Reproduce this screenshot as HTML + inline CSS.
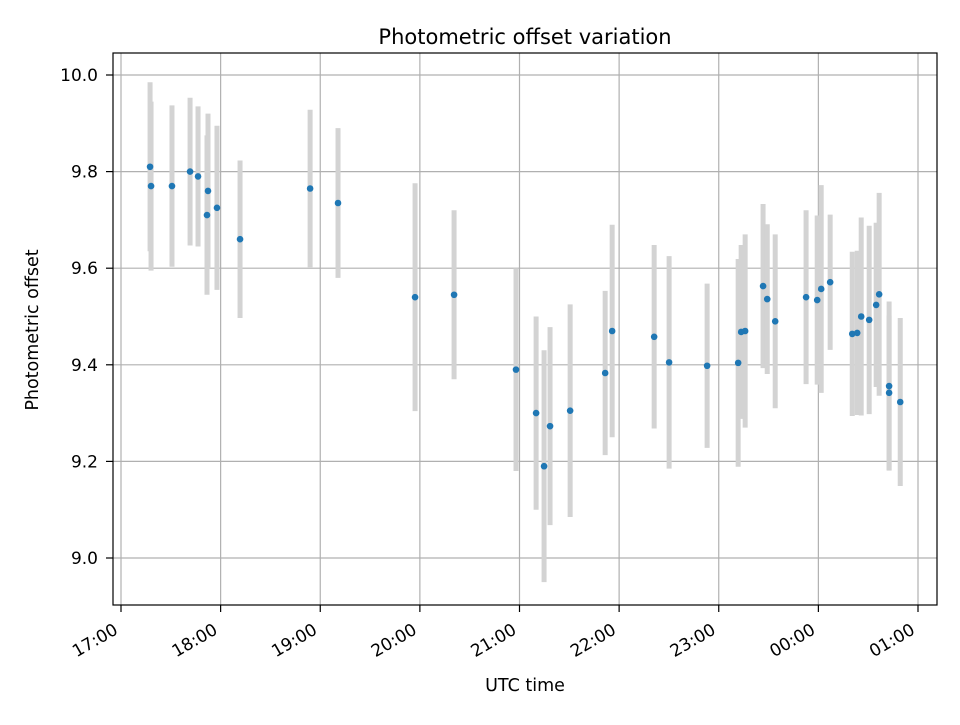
<!DOCTYPE html>
<html><head><meta charset="utf-8"><style>
body{margin:0;background:#fff}
text{font-family:"DejaVu Sans","Liberation Sans",sans-serif;fill:#000}
</style></head><body>
<svg id="c" width="960" height="720" xmlns="http://www.w3.org/2000/svg"></svg>
<script>
const minutes=[17.5,18.1,30.7,41.6,46.4,52.4,51.8,57.8,71.7,113.9,130.7,177.1,200.6,237.9,250,254.8,258.4,270.5,291.6,295.8,321.1,330.1,353,371.7,373.5,375.9,386.7,389.2,394,412.6,419.3,421.7,427.1,440.4,443.4,445.8,450.6,454.8,456.6,462.6,462.6,469.3];
const values=[9.81,9.77,9.77,9.80,9.79,9.76,9.71,9.725,9.66,9.765,9.735,9.54,9.545,9.39,9.30,9.19,9.273,9.305,9.383,9.47,9.458,9.405,9.398,9.404,9.468,9.47,9.563,9.536,9.49,9.54,9.534,9.557,9.571,9.464,9.466,9.5,9.493,9.524,9.546,9.356,9.342,9.323];
const errors=[0.175,0.175,0.167,0.153,0.145,0.16,0.165,0.17,0.163,0.163,0.155,0.236,0.175,0.21,0.2,0.24,0.205,0.22,0.17,0.22,0.19,0.22,0.17,0.215,0.18,0.2,0.17,0.155,0.18,0.18,0.175,0.215,0.14,0.17,0.17,0.205,0.195,0.17,0.21,0.175,0.16,0.174];
const yTicks=[9.0,9.2,9.4,9.6,9.8,10.0];
const xTickMin=[0,60,120,180,240,300,360,420,480];
const xTickLabels=["17:00","18:00","19:00","20:00","21:00","22:00","23:00","00:00","01:00"];
const L=113,R=937,T=53,B=605;
const xs=m=>121+m*(797/480);
const ys=v=>75+(10-v)*483;
const svg=document.getElementById('c');
const NS='http://www.w3.org/2000/svg';
function mk(tag,at,txt){const e=document.createElementNS(NS,tag);for(const k in at)e.setAttribute(k,at[k]);if(txt!==undefined)e.textContent=txt;svg.appendChild(e);return e;}
xTickMin.forEach((m,i)=>{
 const g=mk('line',{x1:xs(m),x2:xs(m),y1:T,y2:B,stroke:'#b0b0b0','stroke-width':1.2});
 
 
 const t=mk('line',{x1:xs(m),x2:xs(m),y1:B,y2:B+7,stroke:'#000','stroke-width':1.2});
 
 
 const x=xs(m)-2,y=B+28;
 const lb=mk('text',{x:x,y:y,'font-size':17,'text-anchor':'end',transform:`rotate(-30 ${x} ${y})`},xTickLabels[i]);
 
 
});
yTicks.forEach(v=>{
 const g=mk('line',{x1:L,x2:R,y1:ys(v),y2:ys(v),stroke:'#b0b0b0','stroke-width':1.2});
 
 
 const t=mk('line',{x1:L-7,x2:L,y1:ys(v),y2:ys(v),stroke:'#000','stroke-width':1.2});
 
 
 const lb=mk('text',{x:L-15,y:ys(v)+6,'font-size':17,'text-anchor':'end'},v.toFixed(1));
 
 
});
minutes.forEach((m,i)=>{
 const e=mk('line',{x1:xs(m),x2:xs(m),y1:ys(values[i]+errors[i]),y2:ys(values[i]-errors[i]),stroke:'#d3d3d3','stroke-width':5});
 
 
});
minutes.forEach((m,i)=>{
 const p=mk('circle',{cx:xs(m),cy:ys(values[i]),r:3.3,fill:'#1f77b4'});
 
 
});
const fr=mk('rect',{x:L,y:T,width:R-L,height:B-T,fill:'none',stroke:'#000','stroke-width':1.2});


const ti=mk('text',{x:525,y:44,'font-size':21,'text-anchor':'middle'},'Photometric offset variation');


const xl=mk('text',{x:525,y:691,'font-size':17.5,'text-anchor':'middle'},'UTC time');


const yl=mk('text',{x:38,y:330,'font-size':17.5,'text-anchor':'middle',transform:'rotate(-90 38 330)'},'Photometric offset');


</script>
</body></html>
